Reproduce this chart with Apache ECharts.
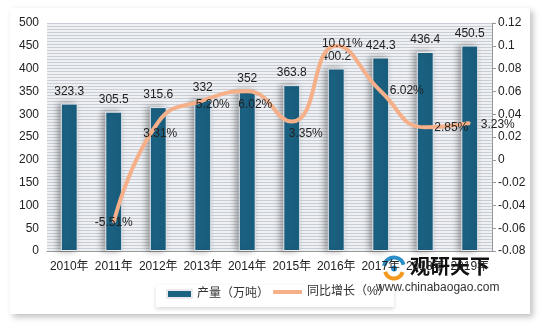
<!DOCTYPE html>
<html><head><meta charset="utf-8">
<script src="https://cdn.jsdelivr.net/npm/echarts@6/dist/echarts.min.js"></script>
<style>html,body{margin:0;padding:0;background:#fff}#c{width:545px;height:326px}</style>
</head><body><div id="c"></div>
<script>
var categories = ['2010年','2011年','2012年','2013年','2014年','2015年','2016年','2017年','2018年','2019年'];
var production = [323.3, 305.5, 315.6, 332, 352, 363.8, 400.2, 424.3, 436.4, 450.5];
var growth = [null, -0.0551, 0.0331, 0.0520, 0.0602, 0.0335, 0.1001, 0.0602, 0.0285, 0.0323];
var growthLabels = ['', '-5.51%', '3.31%', '5.20%', '6.02%', '3.35%', '10.01%', '6.02%', '2.85%', '3.23%'];
var leftTicks = [0, 500, 50];
var rightTicks = [-0.08, 0.12, 0.02];

var pc = document.createElement('canvas');
pc.width = 4; pc.height = 3;
var px = pc.getContext('2d');
px.fillStyle = '#eef0f3'; px.fillRect(0,0,4,3);
px.fillStyle = '#c9ced6'; px.fillRect(0,2,4,1);

var labelOffsets = {1:[0,0],2:[2,12],3:[10,4],4:[8,14],5:[14,12],6:[6,-2],7:[26,0],8:[26,0],9:[28,2]};

var chart = echarts.init(document.getElementById('c'), null, {renderer:'canvas'});
var font = '"Liberation Sans","Noto Sans CJK SC",sans-serif';
var lineColor = '#f5b08a';
chart.setOption({
  animation: false,
  backgroundColor: '#ffffff',
  textStyle: {fontFamily: font},
  graphic: [
    {type:'rect', left:10, top:8, shape:{width:520, height:306}, style:{fill:'#fff', shadowBlur:6, shadowOffsetX:3, shadowOffsetY:3, shadowColor:'rgba(0,0,0,0.25)'}, z:-10},
    {type:'rect', left:156, top:285, shape:{width:238, height:22}, style:{fill:'#fff', shadowBlur:4, shadowOffsetY:2, shadowColor:'rgba(0,0,0,0.15)'}, z:-5},
    {type:'group', left:376, top:255, z:100, children:[
      {type:'arc', shape:{cx:16, cy:12, r:10, startAngle:3.3, endAngle:6.0}, style:{stroke:'#2a8fc8', lineWidth:4, fill:null}},
      {type:'arc', shape:{cx:16, cy:14, r:9, startAngle:0.3, endAngle:2.9}, style:{stroke:'#f39a1e', lineWidth:4, fill:null}},
      {type:'circle', shape:{cx:16, cy:13, r:3}, style:{fill:'#2a8fc8'}},
      {type:'text', x:32, y:1, style:{text:'观研天下', font:'bold 20px "Noto Sans CJK SC"', fill:'#111'}},
      {type:'text', x:-2, y:26, style:{text:'www.chinabaogao.com', font:'12px "Liberation Sans"', fill:'#333'}}
    ]}
  ],
  grid: {left:47, right:53, top:23, bottom:75, show:true, backgroundColor:{image:pc, repeat:'repeat'}, borderWidth:0},
  legend: [
    {left: 161, bottom: 21, itemWidth: 25, itemHeight: 8, itemGap: 6,
     textStyle: {fontSize: 12, color:'#333', fontFamily: font},
     data: [{name:'产量（万吨）', icon:'rect'}]},
    {left: 268, bottom: 23, itemWidth: 29, itemHeight: 4, itemGap: 6,
     textStyle: {fontSize: 12, color:'#333', fontFamily: font},
     data: [{name:'同比增长（%）', icon:'roundRect', itemStyle:{color:lineColor, opacity:1}}]}
  ],
  xAxis: {
    type:'category', data: categories,
    axisLine:{lineStyle:{color:'#999'}}, axisTick:{show:false},
    axisLabel:{color:'#222', fontSize:12, margin:10, interval:0}
  },
  yAxis: [
    {type:'value', min:leftTicks[0], max:leftTicks[1], interval:leftTicks[2],
     axisLabel:{color:'#222', fontSize:12, margin:8}, splitLine:{show:false}, axisLine:{show:false}, axisTick:{show:false}},
    {type:'value', min:rightTicks[0], max:rightTicks[1], interval:rightTicks[2], position:'right',
     axisLabel:{color:'#222', fontSize:12, margin:6, formatter:function(v){return String(+v.toFixed(2));}},
     splitLine:{show:false}, axisLine:{show:true, lineStyle:{color:'#999'}}, axisTick:{show:true, length:4, lineStyle:{color:'#999'}}}
  ],
  series: [
    {name:'产量（万吨）', type:'bar', data: production, barWidth:'38%',
     itemStyle:{color:'#1b6182', borderColor:'#e8eaee', borderWidth:1, shadowBlur:6, shadowOffsetX:-3, shadowColor:'rgba(0,0,0,0.35)'},
     label:{show:true, position:'top', distance:6, color:'#222', fontSize:12}},
    {name:'同比增长（%）', type:'line', yAxisIndex:1, smooth:true, data: growth.map(function(v, i){
        if (v === null) return v;
        var o = labelOffsets[i] || [0,0];
        return {value:v, label:{offset:o}};
      }),
     symbol:'circle', symbolSize:2, showSymbol:true, connectNulls:false,
     lineStyle:{color:lineColor, width:4}, itemStyle:{color:lineColor},
     label:{show:true, position:'inside', color:'#222', fontSize:12, formatter:function(p){return growthLabels[p.dataIndex];}},
     z:3}
  ]
});
</script></body></html>
